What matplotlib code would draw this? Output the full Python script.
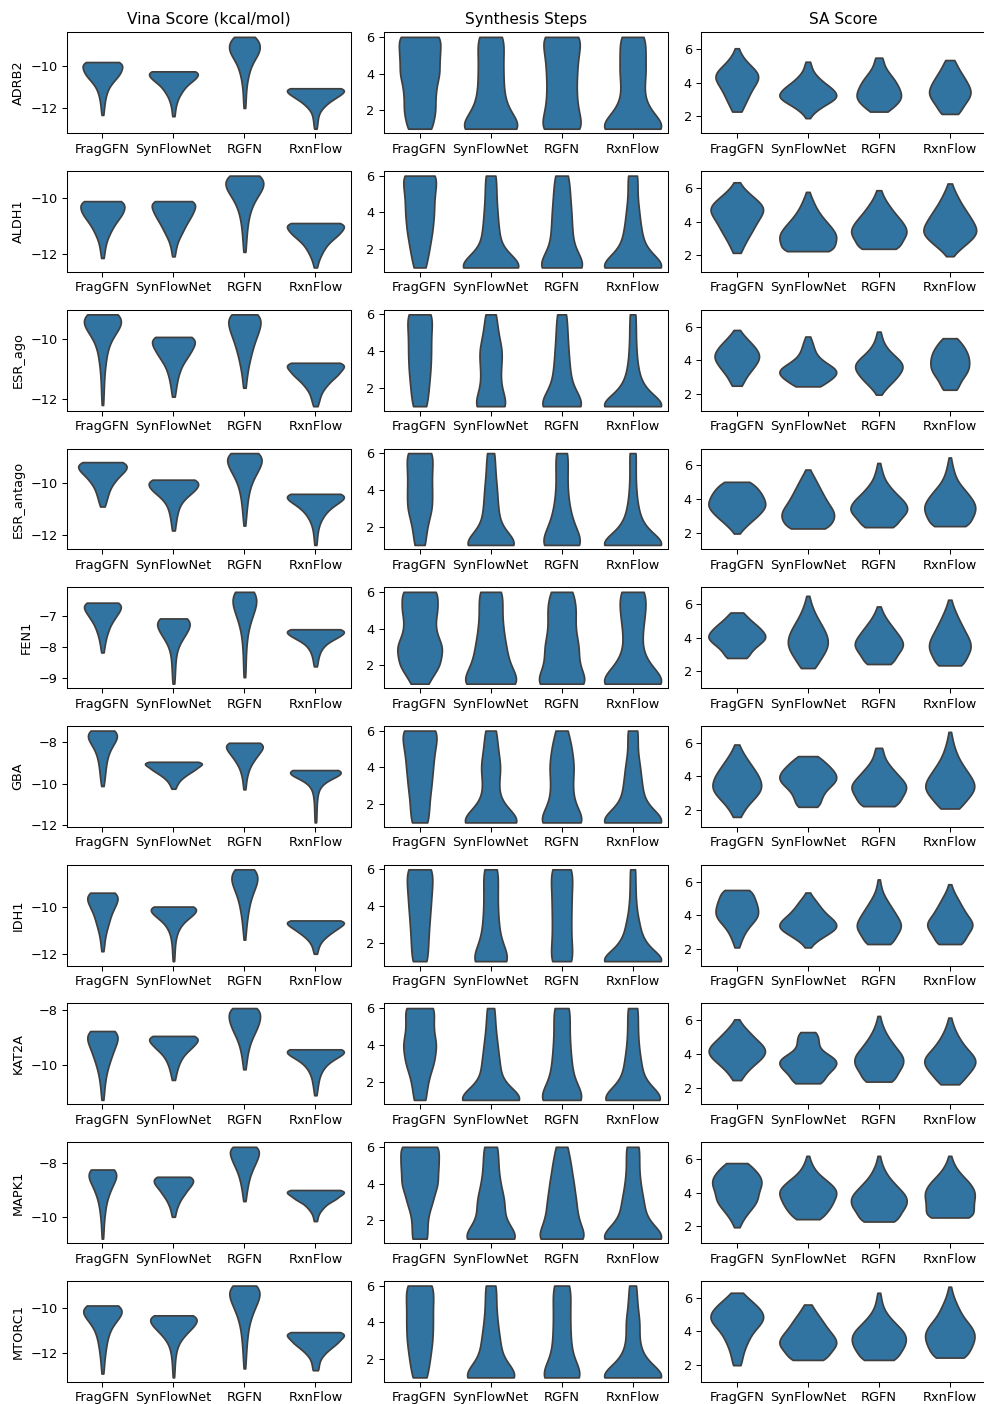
import numpy as np
import pandas as pd
import seaborn as sns
import matplotlib.pyplot as plt

targets = ["ADRB2", "ALDH1", "ESR_ago", "ESR_antago", "FEN1", "GBA", "IDH1", "KAT2A", "MAPK1", "MTORC1"]
methods = ["FragGFN", "SynFlowNet", "RGFN", "RxnFlow"]
metrics = ["Vina Score (kcal/mol)", "Synthesis Steps", "SA Score"]

# Binned samples per method: (bin values, counts)
vina = {
    "ADRB2": [
        ([-9.83, -10.08, -10.33, -10.58, -10.83, -11.08, -11.33, -11.58, -11.83, -12.08, -12.33],
         [95, 77, 76, 57, 37, 23, 16, 11, 8, 6, 4]),
        ([-10.27, -10.54, -10.8, -11.07, -11.33, -11.6, -11.86, -12.13, -12.39],
         [120, 100, 70, 45, 30, 18, 11, 7, 5]),
        ([-8.64, -8.92, -9.2, -9.48, -9.76, -10.04, -10.32, -10.6, -10.88, -11.16, -11.44, -11.72, -12.0],
         [50, 55, 60, 49, 32, 23, 16, 12, 8, 6, 5, 4, 4]),
        ([-11.07, -11.31, -11.55, -11.79, -12.02, -12.26, -12.5, -12.74, -12.98],
         [120, 100, 70, 42, 24, 13, 9, 7, 5]),
    ],
    "ALDH1": [
        ([-10.11, -10.37, -10.62, -10.88, -11.14, -11.39, -11.65, -11.9, -12.16],
         [88, 80, 70, 50, 33, 21, 12, 8, 5]),
        ([-10.11, -10.36, -10.61, -10.86, -11.11, -11.35, -11.6, -11.85, -12.1],
         [94, 83, 72, 55, 40, 27, 15, 9, 5]),
        ([-9.19, -9.47, -9.74, -10.02, -10.29, -10.57, -10.84, -11.12, -11.39, -11.67, -11.94],
         [69, 68, 58, 37, 25, 17, 12, 9, 7, 5, 4]),
        ([-10.9, -11.1, -11.3, -11.5, -11.7, -11.9, -12.1, -12.3, -12.5],
         [113, 100, 85, 60, 40, 28, 18, 10, 6]),
    ],
    "ESR_ago": [
        ([-9.16, -9.44, -9.71, -9.99, -10.27, -10.55, -10.82, -11.1, -11.38, -11.66, -11.93, -12.21],
         [81, 75, 55, 33, 21, 15, 11, 8, 6, 5, 4, 3]),
        ([-9.92, -10.17, -10.42, -10.67, -10.93, -11.18, -11.43, -11.68, -11.93],
         [88, 79, 64, 47, 29, 19, 13, 9, 5]),
        ([-9.16, -9.43, -9.71, -9.98, -10.26, -10.53, -10.81, -11.08, -11.36, -11.63],
         [54, 50, 44, 33, 26, 19, 14, 9, 6, 4]),
        ([-10.79, -10.97, -11.16, -11.34, -11.52, -11.7, -11.89, -12.07, -12.25],
         [113, 100, 85, 60, 42, 28, 18, 13, 8]),
    ],
    "ESR_antago": [
        ([-9.18, -9.4, -9.61, -9.83, -10.04, -10.26, -10.47, -10.69, -10.9],
         [81, 75, 60, 42, 30, 21, 16, 12, 7]),
        ([-9.86, -10.11, -10.35, -10.6, -10.85, -11.09, -11.34, -11.58, -11.83],
         [88, 80, 60, 36, 20, 14, 10, 7, 5]),
        ([-8.83, -9.11, -9.39, -9.67, -9.95, -10.24, -10.52, -10.8, -11.08, -11.36, -11.64],
         [63, 60, 50, 36, 24, 17, 12, 9, 7, 5, 3]),
        ([-10.41, -10.63, -10.85, -11.07, -11.29, -11.51, -11.73, -11.95, -12.17, -12.39],
         [113, 95, 63, 40, 26, 16, 10, 7, 5, 4]),
    ],
    "FEN1": [
        ([-6.57, -6.77, -6.97, -7.17, -7.38, -7.58, -7.78, -7.98, -8.18],
         [81, 72, 55, 40, 27, 18, 12, 8, 5]),
        ([-7.08, -7.31, -7.55, -7.78, -8.02, -8.25, -8.49, -8.72, -8.96, -9.19],
         [56, 52, 40, 24, 13, 8, 6, 5, 4, 3]),
        ([-6.22, -6.5, -6.77, -7.05, -7.32, -7.6, -7.88, -8.15, -8.43, -8.7, -8.98],
         [44, 43, 35, 24, 15, 10, 7, 5, 4, 4, 3]),
        ([-7.43, -7.58, -7.73, -7.88, -8.03, -8.18, -8.33, -8.48, -8.63],
         [113, 100, 70, 40, 25, 16, 11, 8, 6]),
    ],
    "GBA": [
        ([-7.44, -7.71, -7.98, -8.24, -8.51, -8.78, -9.05, -9.32, -9.58, -9.85, -10.12],
         [44, 39, 30, 20, 15, 11, 9, 7, 6, 5, 3]),
        ([-8.95, -9.11, -9.28, -9.44, -9.6, -9.76, -9.93, -10.09, -10.25],
         [94, 80, 66, 50, 35, 24, 15, 9, 6]),
        ([-8.03, -8.28, -8.53, -8.78, -9.03, -9.28, -9.53, -9.78, -10.03, -10.28],
         [73, 64, 50, 37, 25, 16, 11, 7, 5, 4]),
        ([-9.35, -9.6, -9.86, -10.11, -10.36, -10.62, -10.87, -11.12, -11.37, -11.63, -11.88],
         [113, 85, 38, 18, 10, 7, 5, 4, 4, 3, 3]),
    ],
    "IDH1": [
        ([-9.36, -9.61, -9.87, -10.12, -10.37, -10.63, -10.88, -11.13, -11.38, -11.64, -11.89],
         [50, 46, 38, 28, 22, 19, 13, 9, 6, 5, 3]),
        ([-9.96, -10.22, -10.48, -10.75, -11.01, -11.27, -11.53, -11.8, -12.06, -12.32],
         [100, 84, 55, 30, 17, 10, 7, 5, 4, 3]),
        ([-8.35, -8.63, -8.9, -9.18, -9.46, -9.73, -10.01, -10.28, -10.56, -10.84, -11.11, -11.39],
         [44, 43, 43, 33, 24, 18, 14, 11, 8, 6, 4, 3]),
        ([-10.56, -10.74, -10.92, -11.1, -11.28, -11.46, -11.64, -11.82, -12.0],
         [113, 98, 76, 55, 36, 22, 13, 9, 6]),
    ],
    "KAT2A": [
        ([-8.76, -9.01, -9.26, -9.52, -9.77, -10.02, -10.27, -10.52, -10.77, -11.03, -11.28],
         [52, 48, 40, 32, 24, 18, 12, 9, 6, 5, 3]),
        ([-8.94, -9.14, -9.34, -9.54, -9.75, -9.95, -10.15, -10.35, -10.55],
         [85, 74, 58, 40, 26, 17, 12, 8, 5]),
        ([-7.92, -8.17, -8.42, -8.67, -8.91, -9.16, -9.41, -9.66, -9.91, -10.16],
         [52, 50, 48, 38, 28, 19, 13, 9, 6, 4]),
        ([-9.43, -9.64, -9.85, -10.06, -10.27, -10.48, -10.69, -10.9, -11.11],
         [113, 85, 50, 30, 19, 12, 9, 6, 4]),
    ],
    "MAPK1": [
        ([-8.25, -8.51, -8.76, -9.02, -9.27, -9.53, -9.79, -10.04, -10.3, -10.55, -10.81],
         [65, 56, 42, 30, 20, 14, 10, 7, 5, 4, 3]),
        ([-8.52, -8.71, -8.89, -9.08, -9.26, -9.45, -9.63, -9.82, -10.0],
         [88, 80, 66, 50, 36, 24, 15, 10, 6]),
        ([-7.41, -7.63, -7.86, -8.08, -8.3, -8.53, -8.75, -8.97, -9.2, -9.42],
         [54, 49, 43, 32, 24, 17, 12, 9, 6, 4]),
        ([-9.01, -9.15, -9.3, -9.44, -9.59, -9.73, -9.87, -10.02, -10.16],
         [113, 100, 80, 56, 35, 22, 13, 8, 6]),
    ],
    "MTORC1": [
        ([-9.88, -10.16, -10.43, -10.71, -10.99, -11.26, -11.54, -11.82, -12.09, -12.37, -12.64, -12.92],
         [65, 58, 46, 30, 20, 15, 12, 9, 7, 5, 4, 3]),
        ([-10.32, -10.6, -10.87, -11.15, -11.43, -11.71, -11.98, -12.26, -12.54, -12.81, -13.09],
         [100, 90, 72, 48, 28, 15, 10, 7, 5, 4, 3]),
        ([-8.99, -9.3, -9.61, -9.92, -10.22, -10.53, -10.84, -11.15, -11.46, -11.76, -12.07, -12.38, -12.69],
         [56, 53, 46, 34, 25, 18, 13, 10, 8, 6, 5, 4, 3]),
        ([-11.07, -11.28, -11.5, -11.71, -11.92, -12.13, -12.35, -12.56, -12.77],
         [113, 97, 82, 60, 40, 25, 15, 11, 11]),
    ],
}

# Number of molecules per synthesis step count (1..6)
step_values = [1, 2, 3, 4, 5, 6]
steps = {
    "ADRB2": [[50, 62, 60, 78, 76, 88], [105, 48, 37, 36, 35, 41], [90, 64, 58, 60, 65, 83], [130, 50, 34, 43, 40, 44]],
    "ALDH1": [[20, 30, 40, 45, 45, 59], [130, 34, 27, 22, 18, 19], [88, 36, 32, 30, 25, 23], [130, 42, 29, 22, 15, 18]],
    "ESR_ago": [[28, 33, 40, 42, 41, 51], [68, 34, 35, 43, 25, 21], [88, 33, 26, 22, 18, 17], [130, 38, 19, 13, 11, 11]],
    "ESR_antago": [[20, 25, 45, 43, 42, 50], [125, 38, 29, 25, 18, 16], [80, 39, 25, 18, 18, 22], [130, 38, 19, 12, 10, 12]],
    "FEN1": [[28, 70, 80, 50, 60, 64], [105, 60, 50, 40, 36, 41], [90, 50, 55, 40, 45, 38], [130, 48, 27, 32, 40, 44]],
    "GBA": [[30, 30, 38, 43, 48, 65], [124, 33, 24, 35, 23, 20], [90, 42, 36, 43, 35, 22], [130, 40, 31, 25, 15, 19]],
    "IDH1": [[34, 35, 40, 46, 51, 58], [84, 36, 29, 25, 25, 29], [43, 32, 32, 33, 34, 41], [130, 42, 24, 13, 10, 10]],
    "KAT2A": [[22, 28, 50, 60, 45, 56], [125, 35, 29, 22, 15, 13], [92, 40, 33, 28, 25, 30], [130, 38, 29, 20, 17, 19]],
    "MAPK1": [[36, 32, 55, 80, 80, 89], [100, 37, 44, 28, 22, 23], [95, 58, 52, 43, 33, 22], [130, 43, 37, 25, 20, 24]],
    "MTORC1": [[23, 30, 38, 39, 38, 44], [112, 38, 32, 23, 18, 20], [86, 35, 30, 28, 28, 32], [130, 38, 21, 24, 15, 13]],
}

sa = {
    "ADRB2": [
        ([6.05, 5.71, 5.37, 5.03, 4.69, 4.35, 4.01, 3.67, 3.33, 2.99, 2.65, 2.29],
         [4, 10, 20, 34, 52, 60, 50, 40, 32, 27, 18, 15]),
        ([5.25, 4.92, 4.58, 4.25, 3.91, 3.58, 3.24, 2.91, 2.57, 2.24, 1.9],
         [8, 12, 20, 38, 60, 85, 100, 80, 45, 20, 5]),
        ([5.49, 5.17, 4.85, 4.53, 4.21, 3.89, 3.57, 3.25, 2.93, 2.61, 2.29],
         [15, 14, 22, 35, 50, 60, 68, 75, 70, 50, 30]),
        ([5.35, 5.03, 4.71, 4.39, 4.07, 3.75, 3.43, 3.11, 2.79, 2.47, 2.15],
         [19, 24, 36, 48, 60, 70, 78, 70, 55, 40, 38]),
    ],
    "ALDH1": [
        ([6.33, 5.95, 5.57, 5.19, 4.81, 4.43, 4.05, 3.67, 3.29, 2.9, 2.52, 2.14],
         [5, 16, 33, 52, 68, 60, 48, 41, 33, 24, 15, 10]),
        ([5.76, 5.41, 5.06, 4.7, 4.35, 4.0, 3.65, 3.3, 2.95, 2.59, 2.24],
         [5, 13, 22, 32, 45, 62, 80, 95, 100, 90, 94]),
        ([5.86, 5.51, 5.16, 4.82, 4.47, 4.12, 3.77, 3.42, 3.08, 2.73, 2.38],
         [8, 14, 25, 38, 53, 70, 85, 93, 84, 70, 74]),
        ([6.26, 5.9, 5.54, 5.18, 4.82, 4.46, 4.1, 3.74, 3.38, 3.02, 2.66, 2.3, 1.94],
         [7, 14, 25, 35, 48, 62, 75, 87, 96, 80, 55, 30, 8]),
    ],
    "ESR_ago": [
        ([5.8, 5.47, 5.14, 4.81, 4.48, 4.15, 3.81, 3.48, 3.15, 2.82, 2.49],
         [8, 23, 40, 58, 70, 77, 65, 50, 36, 23, 19]),
        ([5.41, 5.11, 4.82, 4.52, 4.23, 3.93, 3.63, 3.34, 3.04, 2.75, 2.45],
         [8, 13, 18, 22, 30, 50, 75, 95, 85, 60, 44]),
        ([5.7, 5.36, 5.02, 4.68, 4.34, 4.0, 3.66, 3.32, 2.98, 2.64, 2.3, 1.96],
         [6, 9, 15, 26, 43, 65, 77, 68, 55, 38, 20, 6]),
        ([5.31, 5.0, 4.7, 4.39, 4.09, 3.78, 3.47, 3.17, 2.86, 2.56, 2.25],
         [31, 43, 58, 67, 71, 75, 71, 60, 45, 32, 34]),
    ],
    "ESR_antago": [
        ([5.02, 4.71, 4.41, 4.1, 3.79, 3.49, 3.18, 2.87, 2.56, 2.26, 1.95],
         [44, 55, 68, 78, 82, 82, 70, 54, 35, 20, 6]),
        ([5.75, 5.4, 5.05, 4.7, 4.35, 4.0, 3.65, 3.3, 2.95, 2.6, 2.25],
         [6, 18, 28, 38, 48, 58, 70, 85, 90, 78, 72]),
        ([6.14, 5.79, 5.45, 5.1, 4.76, 4.41, 4.06, 3.72, 3.37, 3.03, 2.68, 2.33],
         [5, 8, 14, 20, 35, 52, 72, 90, 100, 82, 63, 60]),
        ([6.47, 6.1, 5.73, 5.36, 4.99, 4.62, 4.25, 3.87, 3.5, 3.13, 2.76, 2.39],
         [4, 8, 13, 20, 30, 50, 70, 88, 95, 90, 75, 74]),
    ],
    "FEN1": [
        ([5.5, 5.2, 4.9, 4.6, 4.3, 4.0, 3.7, 3.4, 3.1, 2.8],
         [23, 35, 55, 75, 90, 100, 80, 58, 42, 40]),
        ([6.49, 6.1, 5.71, 5.32, 4.93, 4.54, 4.15, 3.76, 3.37, 2.98, 2.59, 2.2],
         [4, 9, 16, 25, 37, 49, 59, 64, 60, 48, 33, 25]),
        ([5.86, 5.52, 5.18, 4.83, 4.49, 4.15, 3.81, 3.47, 3.12, 2.78, 2.44],
         [6, 13, 25, 40, 55, 70, 85, 90, 72, 55, 54]),
        ([6.26, 5.91, 5.55, 5.2, 4.84, 4.49, 4.13, 3.78, 3.42, 3.07, 2.71, 2.36],
         [5, 11, 20, 29, 40, 50, 62, 73, 78, 67, 54, 54]),
    ],
    "GBA": [
        ([5.9, 5.51, 5.12, 4.73, 4.34, 3.95, 3.55, 3.16, 2.77, 2.38, 1.99, 1.6],
         [5, 13, 23, 35, 46, 58, 64, 62, 47, 30, 17, 10]),
        ([5.21, 4.91, 4.61, 4.31, 4.01, 3.71, 3.41, 3.11, 2.81, 2.5, 2.2],
         [35, 50, 68, 83, 93, 90, 70, 52, 46, 40, 40]),
        ([5.7, 5.35, 5.01, 4.66, 4.32, 3.97, 3.62, 3.28, 2.93, 2.59, 2.24],
         [15, 15, 23, 37, 55, 75, 94, 100, 87, 72, 74]),
        ([6.65, 6.27, 5.89, 5.51, 5.13, 4.75, 4.38, 4.0, 3.62, 3.24, 2.86, 2.48, 2.1],
         [4, 7, 12, 18, 26, 37, 50, 65, 78, 80, 64, 45, 34]),
    ],
    "IDH1": [
        ([5.5, 5.16, 4.82, 4.48, 4.13, 3.79, 3.45, 3.11, 2.77, 2.43, 2.09],
         [56, 56, 65, 72, 77, 68, 48, 32, 22, 14, 8]),
        ([5.35, 5.02, 4.7, 4.37, 4.05, 3.72, 3.39, 3.07, 2.74, 2.42, 2.09],
         [6, 19, 34, 46, 62, 88, 100, 85, 53, 24, 8]),
        ([6.13, 5.78, 5.43, 5.08, 4.73, 4.38, 4.04, 3.69, 3.34, 2.99, 2.64, 2.29],
         [4, 8, 13, 25, 40, 54, 68, 85, 95, 80, 62, 60]),
        ([5.84, 5.49, 5.13, 4.78, 4.42, 4.07, 3.71, 3.36, 3.0, 2.65, 2.29],
         [5, 13, 26, 40, 53, 66, 88, 98, 78, 60, 60]),
    ],
    "KAT2A": [
        ([6.06, 5.7, 5.34, 4.98, 4.61, 4.25, 3.89, 3.53, 3.17, 2.81, 2.45],
         [5, 17, 33, 50, 70, 83, 78, 58, 38, 22, 12]),
        ([5.3, 5.0, 4.69, 4.39, 4.08, 3.78, 3.48, 3.17, 2.87, 2.56, 2.26],
         [31, 33, 35, 32, 50, 85, 98, 85, 63, 50, 54]),
        ([6.26, 5.91, 5.55, 5.2, 4.84, 4.49, 4.13, 3.78, 3.42, 3.07, 2.71, 2.36],
         [4, 9, 16, 27, 40, 56, 74, 90, 90, 75, 60, 60]),
        ([6.16, 5.8, 5.44, 5.08, 4.72, 4.36, 4.0, 3.64, 3.28, 2.92, 2.56, 2.2],
         [4, 9, 16, 25, 37, 50, 70, 85, 78, 63, 45, 34]),
    ],
    "MAPK1": [
        ([5.76, 5.41, 5.07, 4.72, 4.38, 4.03, 3.68, 3.34, 2.99, 2.65, 2.3, 1.95],
         [38, 49, 68, 76, 72, 63, 63, 57, 40, 27, 15, 8]),
        ([6.19, 5.85, 5.51, 5.16, 4.82, 4.48, 4.14, 3.8, 3.45, 3.11, 2.77, 2.43],
         [4, 9, 19, 32, 56, 80, 98, 96, 86, 75, 60, 46]),
        ([6.19, 5.84, 5.48, 5.13, 4.77, 4.42, 4.06, 3.71, 3.35, 3.0, 2.64, 2.29],
         [4, 8, 15, 26, 40, 60, 80, 96, 97, 82, 68, 66]),
        ([6.19, 5.86, 5.52, 5.19, 4.86, 4.53, 4.19, 3.86, 3.53, 3.19, 2.86, 2.53],
         [4, 10, 19, 32, 50, 70, 82, 84, 80, 80, 76, 88]),
    ],
    "MTORC1": [
        ([6.3, 5.91, 5.52, 5.13, 4.74, 4.35, 3.96, 3.56, 3.17, 2.78, 2.39, 2.0],
         [16, 40, 65, 84, 90, 70, 50, 39, 29, 21, 16, 15]),
        ([5.6, 5.27, 4.94, 4.61, 4.28, 3.95, 3.63, 3.3, 2.97, 2.64, 2.31],
         [12, 22, 35, 48, 59, 72, 86, 98, 83, 65, 64]),
        ([6.3, 5.94, 5.57, 5.21, 4.85, 4.49, 4.12, 3.76, 3.4, 3.03, 2.67, 2.31],
         [5, 8, 12, 20, 35, 55, 78, 90, 92, 85, 65, 64]),
        ([6.66, 6.28, 5.89, 5.51, 5.13, 4.74, 4.36, 3.98, 3.6, 3.21, 2.83, 2.45],
         [4, 9, 17, 27, 38, 52, 72, 87, 89, 82, 66, 64]),
    ],
}

bw_adjust = [1.2, 1.15, 1.2]

plt.rcParams.update({
    "font.size": 9.25,
    "axes.linewidth": 0.75,
    "xtick.major.size": 3.25,
    "ytick.major.size": 3.25,
    "xtick.major.width": 0.75,
    "ytick.major.width": 0.75,
})


def to_frame(hists):
    frames = []
    for method, (vals, cnts) in zip(methods, hists):
        frames.append(pd.DataFrame({"method": method, "value": np.repeat(vals, cnts)}))
    return pd.concat(frames, ignore_index=True)


fig, axes = plt.subplots(len(targets), 3, figsize=(9.84, 14.04))
fig.subplots_adjust(left=0.068, right=1.0013, top=0.977, bottom=0.0157, wspace=0.117, hspace=0.374)

for i, target in enumerate(targets):
    panels = [vina[target], [(step_values, c) for c in steps[target]], sa[target]]
    for j, hists in enumerate(panels):
        ax = axes[i, j]
        sns.violinplot(data=to_frame(hists), x="method", y="value", order=methods,
                       cut=0, inner=None, bw_adjust=bw_adjust[j], ax=ax)
        ax.set_xlabel("")
        ax.set_ylabel(target if j == 0 else "")
        if j == 2:
            ax.set_ylim(1, 7)
        if i == 0:
            ax.set_title(metrics[j])

fig.savefig("out.png", dpi=100)
